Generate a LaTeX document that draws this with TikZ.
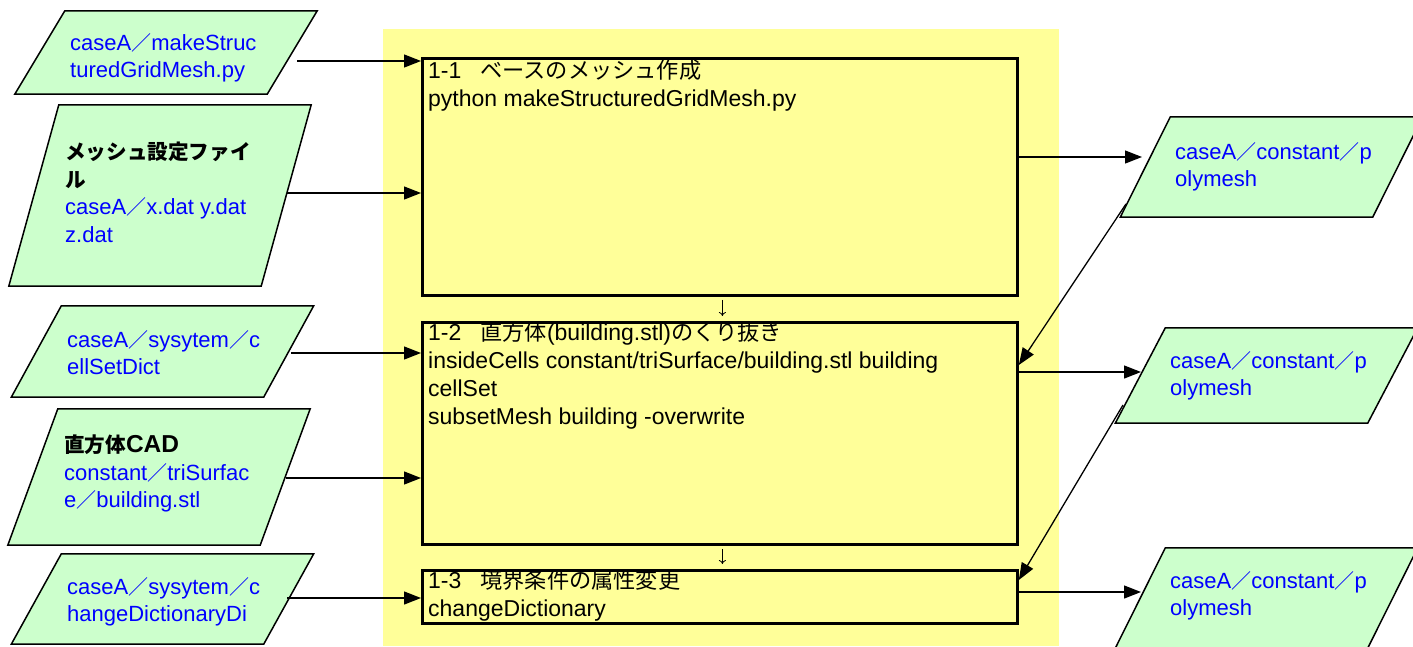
\documentclass[tikz,border=0pt]{standalone}
\usepackage{fontspec}
\setmainfont{Liberation Sans}
\newfontfamily\jpfont{Noto Sans CJK JP}
\usetikzlibrary{arrows.meta,calc}
\definecolor{bgyellow}{HTML}{FFFF99}
\definecolor{pgreen}{HTML}{CCFFCC}
\definecolor{tblue}{HTML}{0000FF}
\newcommand\wsl{{\jpfont\fontsize{20}{27.5}\selectfont ／}}
\newcommand\jpt[1]{{\jpfont\fontsize{22.2}{27.5}\selectfont #1}}
\newcommand\jpb[1]{{\jpfont\bfseries\fontsize{20.6}{27.5}\selectfont\color{black}#1}}
\begin{document}
\begin{tikzpicture}[x=1pt,y=-1pt,
  arr/.style={line width=1.3pt, -{Triangle[length=17pt,width=13pt]}},
  smallarr/.style={line width=0.8pt, -{To[length=4pt,width=7pt]}, shorten <=3pt, shorten >=5pt},
  stepbox/.style={draw=black, line width=2.8pt, fill=bgyellow, inner sep=0pt, anchor=north west, minimum width=595pt},
  para/.style={draw=none, inner sep=0pt, minimum width=302pt},
  parashape/.style={draw=black, line width=1.5pt, fill=pgreen, line join=miter},
  btext/.style={anchor=north west, inner sep=0pt, align=left, font=\fontsize{23}{27.7}\selectfont},
  ptext/.style={anchor=north west, inner sep=0pt, align=left, text=tblue, font=\fontsize{22}{27.5}\selectfont},
  ]
\useasboundingbox (0,0) rectangle (1413,646);
\clip (0,0) rectangle (1413,646);
% yellow background
\fill[bgyellow] (383,29) rectangle (1059,646);
% process boxes
\node[stepbox, minimum height=237pt] (b1) at (421,57) {};
\node[stepbox, minimum height=222pt] (b2) at (421,321) {};
\node[stepbox, minimum height=53pt] (b3) at (421,569) {};
% parallelogram frames
\node[para, minimum height=83pt] (p1) at (166,52.5) {};
\node[para, minimum height=181pt] (p2) at (160,195.5) {};
\node[para, minimum height=91pt] (p3) at (162.5,351.5) {};
\node[para, minimum height=136pt] (p4) at (159,477) {};
\node[para, minimum height=90pt] (p5) at (162.5,599) {};
\node[para, minimum height=100pt] (p6) at (1271.5,167) {};
\node[para, minimum height=95pt] (p7) at (1266.5,375.5) {};
\node[para, minimum height=100pt] (p8) at (1266.5,598) {};
\foreach \n in {p1,p2,p3,p4,p5,p6,p7,p8}
  \draw[parashape] ([xshift=50pt]\n.north west) -- (\n.north east)
     -- ([xshift=-50pt]\n.south east) -- (\n.south west) -- cycle;
% texts in boxes
\node[btext] (tb1) at (428,60) {1-1\hspace{19pt}\jpt{ベースのメッシュ作成}\\python makeStructuredGridMesh.py};
\node[btext] (tb2) at (428,322) {1-2\hspace{19pt}\jpt{直方体}(building.stl)\jpt{のくり抜き}\\insideCells constant/triSurface/building.stl building\\cellSet\\subsetMesh building -overwrite};
\node[btext] (tb3) at (428,570) {1-3\hspace{19pt}\jpt{境界条件の属性変更}\\changeDictionary};
% texts in parallelograms
\node[ptext] (t1) at (70,33) {caseA\wsl makeStruc\\turedGridMesh.py};
\node[ptext] (t2) at (65,142) {\jpb{メッシュ設定ファイ}\\\jpb{ル}\\caseA\wsl x.dat y.dat\\z.dat};
\node[ptext] (t3) at (67,330) {caseA\wsl sysytem\wsl c\\ellSetDict};
\node[ptext] (t4) at (64,435) {\jpb{直方体}{\bfseries\fontsize{24.5}{27.5}\selectfont\color{black}CAD}\\constant\wsl triSurfac\\e\wsl building.stl};
\node[ptext] (t5) at (67,577) {caseA\wsl sysytem\wsl c\\hangeDictionaryDi};
\node[ptext] (t6) at (1175,142) {caseA\wsl constant\wsl p\\olymesh};
\node[ptext] (t7) at (1170,351) {caseA\wsl constant\wsl p\\olymesh};
\node[ptext] (t8) at (1170,571) {caseA\wsl constant\wsl p\\olymesh};
% connector end points on the parallelograms
\coordinate (o1) at (297,61);
\coordinate (o2) at (287,193);
\coordinate (o3) at (291,353);
\coordinate (o4) at (286,478);
\coordinate (o5) at (287,598);
\coordinate (i6) at (1142,157);
\coordinate (i7) at (1141,372);
\coordinate (i8) at (1141,592);
\coordinate (d6) at (1126,204);
\coordinate (d7) at (1123,405);
% input arrows
\draw[arr] (o1) -- (b1.west |- o1);
\draw[arr] (o2) -- (b1.west |- o2);
\draw[arr] (o3) -- (b2.west |- o3);
\draw[arr] (o4) -- (b2.west |- o4);
\draw[arr] (o5) -- (b3.west |- o5);
% output arrows
\draw[arr] (b1.east |- i6) -- (i6);
\draw[arr] (b2.east |- i7) -- (i7);
\draw[arr] (b3.east |- i8) -- (i8);
% feedback arrows
\draw[arr] (d6) -- ([yshift=-44pt]b2.north east);
\draw[arr] (d7) -- ([yshift=-11pt]b3.north east);
% step arrows
\draw[smallarr] ([xshift=2.5pt]b1.south) -- ([xshift=2.5pt]b2.north);
\draw[smallarr] ([xshift=2.5pt]b2.south) -- ([xshift=2.5pt]b3.north);
\end{tikzpicture}
\end{document}
